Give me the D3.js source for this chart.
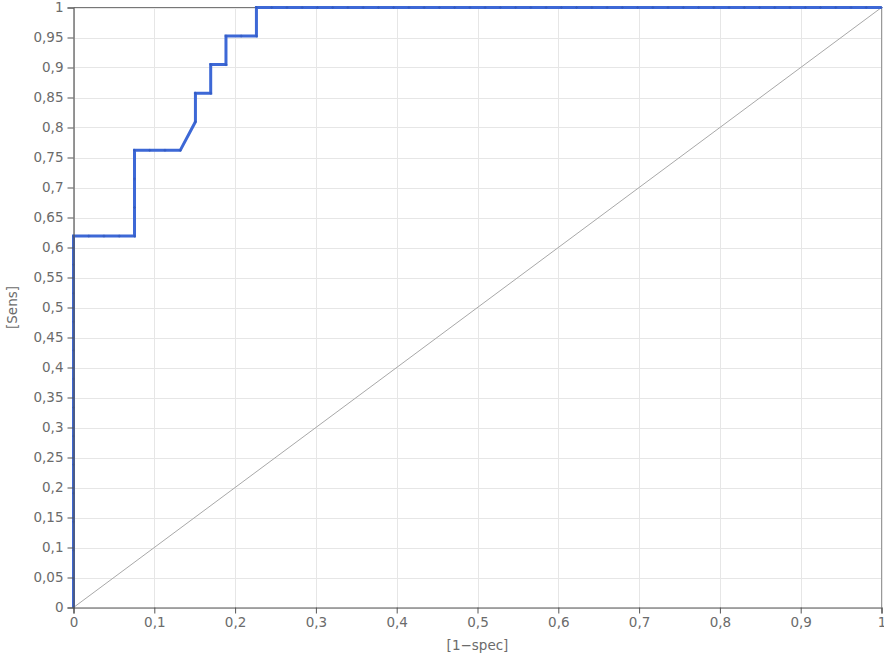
<!DOCTYPE html>
<html>
<head>
<meta charset="utf-8">
<script src="https://cdn.jsdelivr.net/npm/d3@7"></script>
<style>
  html, body { margin: 0; padding: 0; background: #fff; }
  svg { display: block; }
  text { font-family: "DejaVu Sans", Verdana, sans-serif; fill: #6b6b6b; }
</style>
</head>
<body>
<svg id="chart" width="884" height="657"></svg>
<script>
// ROC curve points: false positive rate (1 - specificity) and sensitivity
const fpr = [
  0, 0, 0, 0, 0, 0, 0, 0, 0, 0, 0, 0, 0, 0,
  0.0189, 0.0377, 0.0566, 0.0755, 0.0755, 0.0755, 0.0755,
  0.0943, 0.1132, 0.1321, 0.1509, 0.1509, 0.1698, 0.1698,
  0.1887, 0.1887, 0.2075, 0.2264, 0.2264,
  0.2453, 0.2642, 0.2830, 0.3019, 0.3208, 0.3396, 0.3585, 0.3774, 0.3962,
  0.4151, 0.4340, 0.4528, 0.4717, 0.4906, 0.5094, 0.5283, 0.5472, 0.5660,
  0.5849, 0.6038, 0.6226, 0.6415, 0.6604, 0.6792, 0.6981, 0.7170, 0.7358,
  0.7547, 0.7736, 0.7925, 0.8113, 0.8302, 0.8491, 0.8679, 0.8868, 0.9057,
  0.9245, 0.9434, 0.9623, 0.9811, 1
];
const sens = [
  0, 0.0476, 0.0952, 0.1429, 0.1905, 0.2381, 0.2857, 0.3333, 0.3810, 0.4286,
  0.4762, 0.5238, 0.5714, 0.6190,
  0.6190, 0.6190, 0.6190, 0.6190, 0.6667, 0.7143, 0.7619,
  0.7619, 0.7619, 0.7619, 0.8095, 0.8571, 0.8571, 0.9048,
  0.9048, 0.9524, 0.9524, 0.9524, 1,
  1, 1, 1, 1, 1, 1, 1, 1, 1,
  1, 1, 1, 1, 1, 1, 1, 1, 1,
  1, 1, 1, 1, 1, 1, 1, 1, 1,
  1, 1, 1, 1, 1, 1, 1, 1, 1,
  1, 1, 1, 1, 1
];

// Reference (chance) line
const chanceX = [0, 1];
const chanceY = [0, 1];

// Tick values and their labels (decimal comma)
const xTicks = [0, 0.1, 0.2, 0.3, 0.4, 0.5, 0.6, 0.7, 0.8, 0.9, 1];
const yTicks = [0, 0.05, 0.1, 0.15, 0.2, 0.25, 0.3, 0.35, 0.4, 0.45, 0.5,
                0.55, 0.6, 0.65, 0.7, 0.75, 0.8, 0.85, 0.9, 0.95, 1];
const xTitle = "[1\u2212spec]";
const yTitle = "[Sens]";

const fmt = v => String(+v.toFixed(2)).replace(".", ",");

const svg = d3.select("#chart");
const margin = { left: 73.5, right: 2.5, top: 7.5, bottom: 49.5 };
const W = 884, H = 657;

const x = d3.scaleLinear().domain([0, 1]).range([margin.left, W - margin.right]);
const y = d3.scaleLinear().domain([0, 1]).range([H - margin.bottom - 0.5 + 0.5, margin.top]);

// Grid
const grid = svg.append("g").attr("stroke", "#e6e6e6").attr("stroke-width", 1);
grid.selectAll("line.gx").data(xTicks).join("line")
  .attr("x1", d => Math.round(x(d)) + 0.5).attr("x2", d => Math.round(x(d)) + 0.5)
  .attr("y1", y(0)).attr("y2", y(1));
grid.selectAll("line.gy").data(yTicks).join("line")
  .attr("x1", x(0)).attr("x2", x(1))
  .attr("y1", d => Math.round(y(d)) + 0.5).attr("y2", d => Math.round(y(d)) + 0.5);

// Frame (top and right)
svg.append("line").attr("x1", x(0)).attr("x2", x(1)).attr("y1", y(1)).attr("y2", y(1))
  .attr("stroke", "#777");
svg.append("line").attr("x1", x(1)).attr("x2", x(1)).attr("y1", y(1)).attr("y2", y(0))
  .attr("stroke", "#999");

// Chance diagonal
svg.append("line")
  .attr("x1", x(chanceX[0])).attr("y1", y(chanceY[0]))
  .attr("x2", x(chanceX[1])).attr("y2", y(chanceY[1]))
  .attr("stroke", "#a8a8a8").attr("stroke-width", 1);

// ROC curve
const pts = fpr.map((f, i) => [f, sens[i]]);
const line = d3.line().x(d => x(d[0])).y(d => y(d[1]));
svg.append("path")
  .datum(pts)
  .attr("d", line)
  .attr("fill", "none")
  .attr("stroke", "#3d68d6")
  .attr("stroke-width", 3)
  .attr("stroke-linejoin", "miter");

// Point markers along the curve
svg.append("g").selectAll("path").data(pts).join("path")
  .attr("d", d => {
    const px = x(d[0]), py = y(d[1]);
    return `M${px - 1.5},${py}H${px + 1.5}M${px},${py - 1.5}V${py + 1.5}`;
  })
  .attr("stroke", "#2f55b8").attr("stroke-width", 1).attr("opacity", 0.6);

// Axes
const xAxis = d3.axisBottom(x).tickValues(xTicks).tickFormat(fmt).tickSizeOuter(0).tickSize(6).tickPadding(4);
const yAxis = d3.axisLeft(y).tickValues(yTicks).tickFormat(fmt).tickSizeOuter(0).tickSize(6).tickPadding(4);

const gx = svg.append("g").attr("transform", `translate(0,${y(0)})`).call(xAxis);
const gy = svg.append("g").attr("transform", `translate(${x(0)},0)`).call(yAxis);
[gx, gy].forEach(g => {
  g.select(".domain").attr("stroke", "#555").attr("stroke-width", 1.2);
  g.selectAll(".tick line").attr("stroke", "#555");
  g.selectAll(".tick text").attr("fill", "#6b6b6b")
    .style("font-family", "'DejaVu Sans', Verdana, sans-serif").style("font-size", "13.5px");
});

// Axis titles
svg.append("text")
  .attr("x", (x(0) + x(1)) / 2).attr("y", 650)
  .attr("text-anchor", "middle").style("font-size", "13.5px")
  .text(xTitle);
svg.append("text")
  .attr("transform", `translate(17,${(y(0) + y(1)) / 2}) rotate(-90)`)
  .attr("text-anchor", "middle").style("font-size", "13.5px")
  .text(yTitle);
</script>
</body>
</html>
